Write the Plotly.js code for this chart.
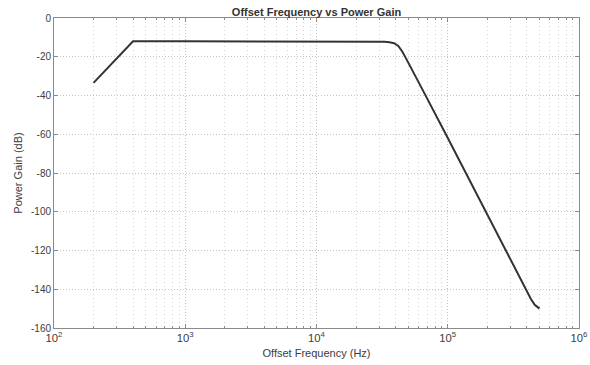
<!DOCTYPE html>
<html>
<head>
<meta charset="utf-8">
<script src="https://cdn.plot.ly/plotly-3.0.1.min.js"></script>
<style>
  html, body { margin: 0; padding: 0; background: #fff; }
  #chart { width: 590px; height: 365px; }
</style>
</head>
<body>
<div id="chart"></div>
<script>
// Offset frequency (Hz) and the matching power gain (dB)
const offsetFrequencyHz = [200, 400, 1000, 10000, 30000, 33000, 36000, 39000, 42000, 45000,
  48000, 52000, 58000, 68000, 96700, 137000, 195000, 277000, 394000, 430000, 460000, 500000];
const powerGainDb = [-33.5, -12, -12, -12, -12.15, -12.3, -12.5, -13.0, -14.4, -17.3,
  -20.7, -25.1, -31.2, -40.2, -60, -80, -100, -120, -140, -145, -148, -150];

// Axis tick values and labels
const yTickValues = [0, -20, -40, -60, -80, -100, -120, -140, -160];
const yTickLabels = ['0', '-20', '-40', '-60', '-80', '-100', '-120', '-140', '-160'];

const axisColor = '#8a8a8a';
const gridColor = '#c4c4c4';
const minorGridColor = '#d2d2d2';
const textColor = '#3c3c3c';

const trace = {
  x: offsetFrequencyHz,
  y: powerGainDb,
  type: 'scatter',
  mode: 'lines',
  line: { color: '#333333', width: 2 },
  hoverinfo: 'x+y'
};

const layout = {
  width: 590,
  height: 365,
  margin: { l: 54, r: 11, t: 18, b: 37 },
  paper_bgcolor: '#ffffff',
  plot_bgcolor: '#ffffff',
  font: { family: 'Liberation Sans, Arial, sans-serif', size: 10, color: textColor },
  showlegend: false,
  title: {
    text: '<b>Offset Frequency vs Power Gain</b>',
    font: { size: 11, color: '#333333' },
    x: 0.5, xanchor: 'center', xref: 'paper',
    y: 1, yref: 'paper', yanchor: 'bottom', pad: { b: 2 }
  },
  xaxis: {
    type: 'log',
    range: [2, 6],
    dtick: 1,
    exponentformat: 'power',
    showline: true, linecolor: axisColor, linewidth: 1, mirror: 'ticks',
    ticks: 'inside', ticklen: 4, tickcolor: axisColor,
    showgrid: true, gridcolor: gridColor, griddash: '1px,2px', gridwidth: 1,
    zeroline: false,
    tickfont: { size: 9, color: textColor },
    minor: { dtick: 'D1', ticks: 'inside', ticklen: 2, tickcolor: axisColor,
             showgrid: true, gridcolor: minorGridColor, griddash: '1px,3px' },
    title: { text: 'Offset Frequency (Hz)', font: { size: 11, color: textColor }, standoff: 6 }
  },
  yaxis: {
    range: [-160, 0],
    tickvals: yTickValues,
    ticktext: yTickLabels,
    showline: true, linecolor: axisColor, linewidth: 1, mirror: 'ticks',
    ticks: 'inside', ticklen: 4, tickcolor: axisColor,
    showgrid: true, gridcolor: gridColor, griddash: '1px,2px', gridwidth: 1,
    zeroline: false,
    tickfont: { size: 10, color: textColor },
    title: { text: 'Power Gain (dB)', font: { size: 11, color: textColor }, standoff: 6 }
  }
};

Plotly.newPlot('chart', [trace], layout, { displayModeBar: false, staticPlot: true });
</script>
</body>
</html>
